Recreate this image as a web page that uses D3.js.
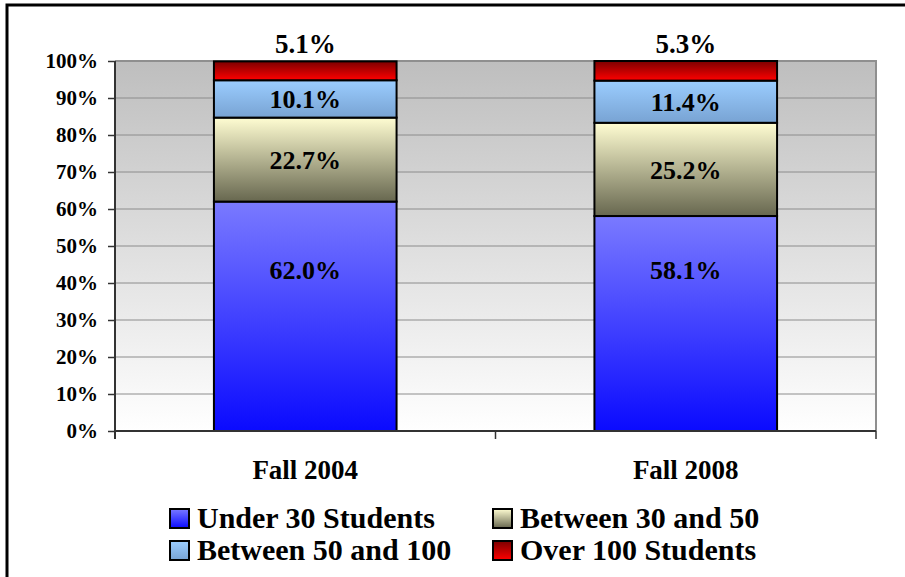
<!DOCTYPE html>
<html>
<head>
<meta charset="utf-8">
<script src="https://cdn.jsdelivr.net/npm/d3@7"></script>
<style>
  body { margin: 0; background: #fff; }
  svg text { font-family: "Liberation Serif", "DejaVu Serif", serif; font-weight: bold; fill: #000; }
</style>
</head>
<body>
<svg class="chart" width="905" height="577"></svg>
<script>
// data
const categories = ["Fall 2004", "Fall 2008"]
const seriesNames = ["Under 30 Students", "Between 30 and 50", "Between 50 and 100", "Over 100 Students"]
const under30 = [62.0, 58.1]
const between30and50 = [22.7, 25.2]
const between50and100 = [10.1, 11.4]
const over100 = [5.1, 5.3]
const yTicks = [0, 10, 20, 30, 40, 50, 60, 70, 80, 90, 100]

// gradient colours per series, [top, bottom]
const seriesColors = [
  ["#7a7aff", "#0a0aff"],
  ["#fffdd2", "#67674f"],
  ["#9bcdff", "#78a3d3"],
  ["#7c0000", "#ff0000"]
]

const rows = categories.map((c, i) => ({
  cat: c,
  s0: under30[i], s1: between30and50[i], s2: between50and100[i], s3: over100[i]
}))
const keys = ["s0", "s1", "s2", "s3"]
const stacked = d3.stack().keys(keys)(rows)

const svg = d3.select("svg.chart")
const plotL = 115, plotR = 876, plotT = 61, plotB = 431
const serif = "'Liberation Serif', 'DejaVu Serif', serif"

const x = d3.scaleBand()
  .domain(categories)
  .range([plotL, plotR])
  .paddingInner(0.52)
  .paddingOuter(0.26)

const y = d3.scaleLinear()
  .domain([0, 100])
  .range([plotB, plotT])

const defs = svg.append("defs")
const bg = defs.append("linearGradient").attr("id", "bg")
  .attr("x1", 0).attr("y1", 0).attr("x2", 0).attr("y2", 1)
bg.append("stop").attr("offset", "0%").attr("stop-color", "#bebebe")
bg.append("stop").attr("offset", "100%").attr("stop-color", "#ffffff")

seriesColors.forEach((c, i) => {
  const g = defs.append("linearGradient").attr("id", "grad" + i)
    .attr("x1", 0).attr("y1", 0).attr("x2", 0).attr("y2", 1)
  g.append("stop").attr("offset", "0%").attr("stop-color", c[0])
  g.append("stop").attr("offset", "100%").attr("stop-color", c[1])
})

// outer frame (runs off the right and bottom edges)
svg.append("path")
  .attr("d", "M7,577 L7,5 L905,5")
  .attr("fill", "none")
  .attr("stroke", "#000")
  .attr("stroke-width", 3)

// plot area
svg.append("rect")
  .attr("x", plotL).attr("y", plotT)
  .attr("width", plotR - plotL).attr("height", plotB - plotT)
  .attr("fill", "url(#bg)")

// gridlines
svg.append("g")
  .selectAll("line")
  .data(yTicks.filter(d => d > 0 && d < 100))
  .enter()
  .append("line")
  .attr("x1", plotL).attr("x2", plotR)
  .attr("y1", d => y(d)).attr("y2", d => y(d))
  .attr("stroke", "#8c8c8c")
  .attr("stroke-width", 1)

// plot border top and right
svg.append("path")
  .attr("d", `M${plotL},${plotT} L${plotR},${plotT} L${plotR},${plotB}`)
  .attr("fill", "none")
  .attr("stroke", "#8f8f8f")
  .attr("stroke-width", 2)

// bars
const layers = svg.append("g")
  .selectAll("g")
  .data(stacked)
  .enter()
  .append("g")
  .attr("fill", (d, i) => "url(#grad" + i + ")")

layers.selectAll("rect")
  .data(d => d)
  .enter()
  .append("rect")
  .attr("x", d => x(d.data.cat))
  .attr("y", d => y(d[1]))
  .attr("width", x.bandwidth())
  .attr("height", d => y(d[0]) - y(d[1]))
  .attr("stroke", "#000")
  .attr("stroke-width", 2)

// axes
const yAxis = d3.axisLeft(y).tickValues(yTicks).tickFormat(d => d + "%").tickSize(7).tickPadding(10)
const yG = svg.append("g").attr("transform", `translate(${plotL},0)`).call(yAxis)
yG.attr("font-family", null).attr("font-size", null)
yG.select(".domain").remove()
yG.selectAll(".tick line").attr("stroke", "#333").attr("stroke-width", 1.5)
yG.selectAll(".tick text")
  .style("font-size", "21px")
  .style("font-family", serif)
  .style("font-weight", "bold")
  .attr("fill", "#000")

svg.append("line")
  .attr("x1", plotL).attr("x2", plotL)
  .attr("y1", plotT).attr("y2", plotB + 8)
  .attr("stroke", "#333").attr("stroke-width", 2)

svg.append("line")
  .attr("x1", plotL).attr("x2", plotR)
  .attr("y1", plotB).attr("y2", plotB)
  .attr("stroke", "#333").attr("stroke-width", 2)

// category separators on x axis
const sepX = [plotL, (plotL + plotR) / 2, plotR]
svg.append("g")
  .selectAll("line")
  .data(sepX)
  .enter()
  .append("line")
  .attr("x1", d => d).attr("x2", d => d)
  .attr("y1", plotB).attr("y2", plotB + 8)
  .attr("stroke", "#333").attr("stroke-width", 1.5)

svg.append("g")
  .selectAll("text")
  .data(categories)
  .enter()
  .append("text")
  .attr("x", d => x(d) + x.bandwidth() / 2)
  .attr("y", plotB + 48)
  .attr("text-anchor", "middle")
  .style("font-size", "27px")
  .text(d => d)

// value labels
layers.selectAll("text")
  .data((d, i) => d.map(p => ({ p: p, k: i })))
  .enter()
  .append("text")
  .attr("x", d => x(d.p.data.cat) + x.bandwidth() / 2)
  .attr("y", d => {
    if (d.k === 3) return y(d.p[1]) - 8
    if (d.k === 0) return y(43.5)
    return y((d.p[0] + d.p[1]) / 2)
  })
  .attr("dy", d => d.k === 3 ? 0 : "0.35em")
  .attr("text-anchor", "middle")
  .style("fill", "#000")
  .style("font-size", d => d.k === 3 ? "27px" : "26px")
  .text(d => (d.p[1] - d.p[0]).toFixed(1) + "%")

// legend
const legendPos = [[170, 509], [493, 509], [170, 541], [493, 541]]
const legend = svg.append("g")
  .selectAll("g")
  .data(seriesNames)
  .enter()
  .append("g")
  .attr("transform", (d, i) => `translate(${legendPos[i][0]},${legendPos[i][1]})`)

legend.append("rect")
  .attr("width", 19).attr("height", 19)
  .attr("fill", (d, i) => "url(#grad" + i + ")")
  .attr("stroke", "#000")
  .attr("stroke-width", 2)

legend.append("text")
  .attr("x", 27)
  .attr("y", 19)
  .style("font-size", "30px")
  .text(d => d)
</script>
</body>
</html>
